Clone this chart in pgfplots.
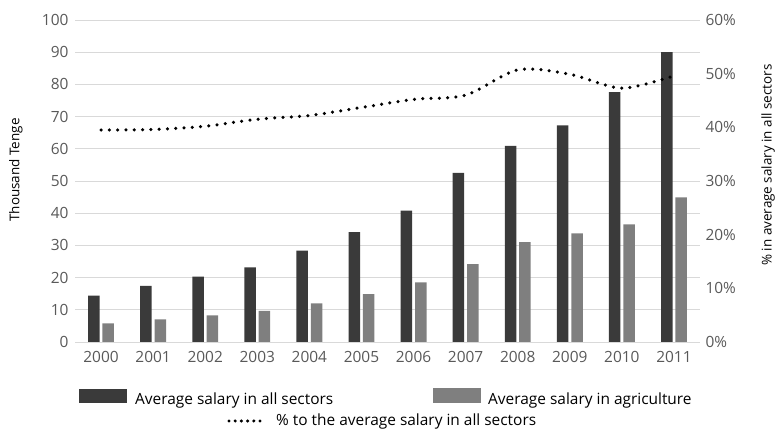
\documentclass[border=0pt]{standalone}
\usepackage{pgfplots}
\pgfplotsset{compat=1.18}
\usepackage{fontspec}
\setmainfont{Open Sans}
\definecolor{darkbar}{HTML}{3A3A3A}
\definecolor{lightbar}{HTML}{7F7F7F}
\definecolor{gridc}{HTML}{D9D9D9}
\definecolor{tickc}{HTML}{595959}
\newcommand{\fs}{\fontsize{15.5}{18}\selectfont}
\newcommand{\fl}{\fontsize{13.5}{16}\selectfont}
\pgfplotstableread{
x all agri pct
0 14.4 5.8 39.5
1 17.4 7.0 39.6
2 20.3 8.3 40.2
3 23.2 9.7 41.5
4 28.4 12.0 42.2
5 34.1 14.9 43.7
6 40.8 18.5 45.2
7 52.5 24.2 46.0
8 60.9 31.0 50.7
9 67.3 33.7 49.9
10 77.6 36.5 47.3
11 90.0 44.9 49.6
}\datatable
\begin{document}
\begin{tikzpicture}[x=1bp,y=1bp]
\path[use as bounding box] (0,0) rectangle (779,437);
\pgfplotsset{
  base/.style={
    at={(75bp,95bp)}, anchor=south west, scale only axis,
    width=625bp, height=322bp,
    xmin=-0.5, xmax=11.5,
    axis line style={draw=none}, major tick length=0pt,
    /pgf/number format/assume math mode=true,
    tick label style={font=\fs, text=tickc},
  }
}
\begin{axis}[base,
  ymin=0, ymax=100, ytick={0,10,...,100},
  xtick={0,...,11}, xticklabels={2000,2001,2002,2003,2004,2005,2006,2007,2008,2009,2010,2011},
  ymajorgrids, grid style={gridc, line width=0.9bp},
  yticklabel style={xshift=-3bp},
  xticklabel style={yshift=-6bp},
  ybar, bar width=11.5bp,
]
\addplot[fill=darkbar, draw=none, bar shift=-7.2bp] table[x=x, y=all] {\datatable};
\addplot[fill=lightbar, draw=none, bar shift=7.2bp] table[x=x, y=agri] {\datatable};
\end{axis}
\begin{axis}[base,
  ymin=0, ymax=60, ytick={0,10,...,60},
  yticklabel pos=right, xtick=\empty,
  yticklabel={\pgfmathprintnumber{\tick}\%},
  yticklabel style={xshift=2bp},
]
\addplot[black, line width=3.5bp, line cap=round, dash pattern=on 0bp off 8.3bp, smooth, tension=0.5] table[x=x, y=pct] {\datatable};
\end{axis}
% axis titles
\node[rotate=90, font=\fl] at (16,267) {Thousand Tenge};
\node[rotate=90, font=\fl] at (768,272) {\% in average salary in all sectors};
% legend
\fill[darkbar] (79,34) rectangle (127,48);
\node[anchor=base west, inner sep=0pt, font=\fs] at (135,32) {Average salary in all sectors};
\fill[lightbar] (433,34) rectangle (481,49);
\node[anchor=base west, inner sep=0pt, font=\fs] at (488,32) {Average salary in agriculture};
\draw[black, line width=3.4bp, line cap=round, dash pattern=on 0bp off 6.2bp] (229,16) -- (260.5,16);
\node[anchor=base west, inner sep=0pt, font=\fs] at (276,11) {\% to the average salary in all sectors};
\end{tikzpicture}
\end{document}
